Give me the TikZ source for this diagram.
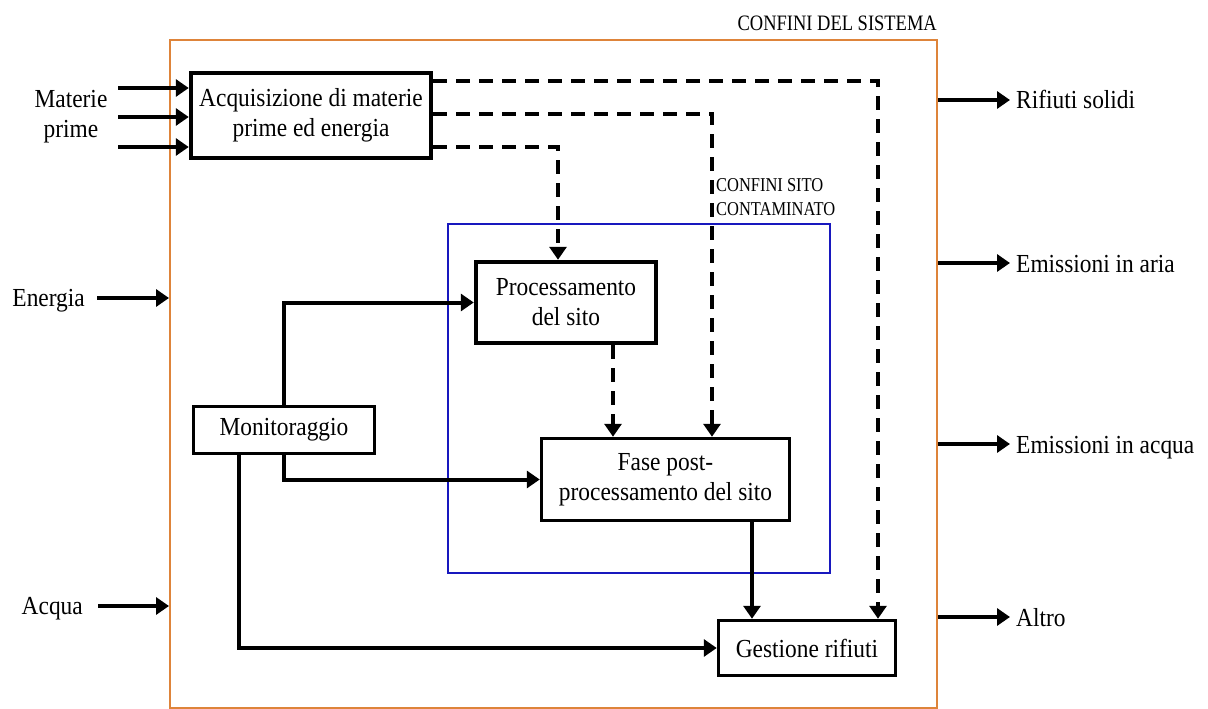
\documentclass[tikz,border=0pt]{standalone}
\usepackage{fontspec}
\setmainfont[FakeStretch=0.9]{Liberation Serif}
\newfontfamily\narrowserif[FakeStretch=0.84]{Liberation Serif}
\usetikzlibrary{arrows.meta}
\definecolor{sysorange}{RGB}{222,132,58}
\definecolor{siteblue}{RGB}{24,24,190}
\newcommand\dgmfont{\fontsize{26}{30}\selectfont}

\begin{document}
\begin{tikzpicture}[x=1pt, y=-1pt,
  lbl/.style={font=\dgmfont, inner sep=0pt},
  box/.style={draw, line width=3.5pt, align=center, inner sep=0pt, font=\dgmfont},
  heavybox/.style={box, line width=4.5pt},
  flow/.style={line width=4pt, -{Triangle[length=13pt,width=17pt]}},
  dflow/.style={flow, dash pattern=on 14pt off 9pt},
  bound/.style={draw, line width=2pt, inner sep=0pt}]

\useasboundingbox (0,0) rectangle (1208,709);
\fill[white] (0,0) rectangle (1208,709);

% system and contaminated-site boundaries
\node[bound, draw=sysorange, minimum width=767pt, minimum height=668pt] (sys) at (553.5,374) {};
\node[bound, draw=siteblue, minimum width=382pt, minimum height=349pt] (site) at (639,398.5) {};

\node[lbl, anchor=base east, font=\narrowserif\fontsize{22}{26}\selectfont] (sysname) at (937,31) {CONFINI DEL SISTEMA};
\node[lbl, anchor=west, align=left, font=\narrowserif\fontsize{19.6}{24}\selectfont] (sitename) at (716,197) {CONFINI SITO\\CONTAMINATO};

% process blocks
\node[heavybox, minimum width=240pt, minimum height=85pt] (acq) at (311,115.5) {Acquisizione di materie\\prime ed energia};
\node[heavybox, minimum width=180pt, minimum height=81pt] (proc) at (566,302.5) {Processamento\\del sito};
\node[box, minimum width=248pt, minimum height=82pt] (fase) at (665.5,479.5) {Fase post-\\processamento del sito};
\node[box, minimum width=177pt, minimum height=55pt] (gest) at (807,648) {Gestione rifiuti};
\node[box, minimum width=181pt, minimum height=47pt] (mon) at (284,430) {Monitoraggio};

% inputs
\node[lbl, align=center] (mp) at (71,117) {Materie\\prime};
\node[lbl, anchor=base east] (en) at (85,306) {Energia};
\node[lbl, anchor=base east] (aq) at (83,614) {Acqua};

\coordinate (m1) at (118,88);
\coordinate (m2) at (118,117);
\coordinate (m3) at (118,147);
\draw[flow] (m1) -- (m1 -| acq.west);
\draw[flow] (m2) -- (m2 -| acq.west);
\draw[flow] (m3) -- (m3 -| acq.west);

\coordinate (e0) at (97,298);
\coordinate (a0) at (98,606);
\draw[flow] (e0) -- (e0 -| sys.west);
\draw[flow] (a0) -- (a0 -| sys.west);

% outputs
\coordinate (o1) at (1010,100);
\coordinate (o2) at (1010,263);
\coordinate (o3) at (1010,444);
\coordinate (o4) at (1010,617);
\draw[flow] (o1 -| sys.east) -- (o1);
\draw[flow] (o2 -| sys.east) -- (o2);
\draw[flow] (o3 -| sys.east) -- (o3);
\draw[flow] (o4 -| sys.east) -- (o4);
\node[lbl, anchor=base west] (rs) at (1016,109) {Rifiuti solidi};
\node[lbl, anchor=base west] (ea) at (1016,272) {Emissioni in aria};
\node[lbl, anchor=base west] (ew) at (1016,453) {Emissioni in acqua};
\node[lbl, anchor=base west] (al) at (1016,626) {Altro};

% dashed supply lines from the acquisition block
\coordinate (yA) at (0,147);
\coordinate (yB) at (0,114);
\coordinate (yC) at (0,81);
\coordinate (xA) at (558,0);
\coordinate (xB) at (712,0);
\coordinate (xC) at (878,0);
\draw[dflow] (acq.east |- yC) -| (xC |- gest.north);
\draw[dflow] (acq.east |- yB) -| (xB |- fase.north);
\draw[dflow] (acq.east |- yA) -| (xA |- proc.north);

% internal flows
\coordinate (xP) at (613,0);
\coordinate (xF) at (752,0);
\draw[dflow] (xP |- proc.south) -- (xP |- fase.north);
\draw[flow] (xF |- fase.south) -- (xF |- gest.north);

% monitoring links
\coordinate (xM) at (284,0);
\coordinate (xL) at (239,0);
\draw[flow] (xM |- mon.north) |- (proc.west);
\draw[flow] (xM |- mon.south) |- (fase.west);
\draw[flow] (xL |- mon.south) |- (gest.west);

\end{tikzpicture}
\end{document}
